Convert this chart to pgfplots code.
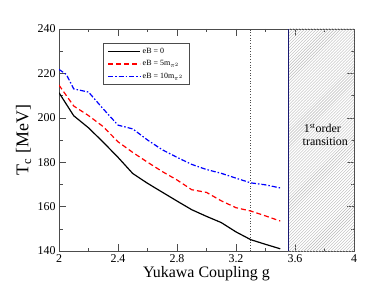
\documentclass[border=0pt]{standalone}
\usepackage{fontspec}
\setmainfont{Liberation Serif}
\usepackage{pgfplots}
\pgfplotsset{compat=1.18}
\usetikzlibrary{patterns}
\begin{document}
\begin{tikzpicture}[x=1bp,y=1bp]
\begin{axis}[
  scale only axis, width=295bp, height=222bp,
  xmin=2, xmax=4, ymin=140, ymax=240,
  xtick={2,2.4,2.8,3.2,3.6,4},
  xticklabels={2,2.4,2.8,3.2,3.6,4},
  ytick={140,160,180,200,220,240},
  minor x tick num=1, minor y tick num=1,
  tick align=inside, ticks=both,
  major tick length=7bp, minor tick length=3.5bp,
  tick style={black!70, line width=0.5bp},
  axis line style={black!70, line width=0.8bp},
  /pgf/number format/assume math mode=true,
  ticklabel style={font=\fontsize{12}{13}\selectfont},
  xticklabel style={inner sep=1.5bp, yshift=-2bp},
  xlabel={Yukawa Coupling g},
  ylabel={T\textsubscript{c} [MeV]},
  xlabel style={font=\fontsize{16}{18}\selectfont, inner sep=0pt, at={(axis description cs:0.5,-0.1)}, anchor=center},
  ylabel style={font=\fontsize{18}{20}\selectfont, at={(axis description cs:-0.12,0.5)}, anchor=center},
  legend style={at={(axis cs:2.30,233.7)}, anchor=north west, draw=black!70, line width=0.6bp,
    font=\fontsize{8}{9}\selectfont, row sep=1.5bp, inner xsep=4bp, inner ysep=3bp},
  legend cell align=left,
  legend image code/.code={\draw[#1] (0bp,0bp) -- (24bp,0bp); \path (0bp,0bp) -- (32bp,0bp);},
]
\addplot[draw=none, pattern=north east lines, pattern color=black!28, forget plot]
  coordinates {(3.557,140) (4,140) (4,240) (3.557,240)} -- cycle;
\addplot[color={rgb,1:red,0.1;green,0.1;blue,0.45}, line width=1bp, forget plot]
  coordinates {(3.557,140) (3.557,240)};
\addplot[black!70, dotted, line width=0.7bp, forget plot]
  coordinates {(3.3,140) (3.3,240)};
\addplot[black, line width=1.2bp] coordinates {
 (2.0,211.3) (2.1,200.9) (2.2,195.5) (2.3,189.0) (2.4,182.2) (2.5,174.9)
 (2.6,170.5) (2.7,166.5) (2.8,162.5) (2.9,158.6) (3.0,155.6) (3.1,152.8)
 (3.2,148.6) (3.3,145.1) (3.4,143.0) (3.5,141.0)};
\addlegendentry{eB = 0}
\addplot[red, dashed, dash pattern=on 5bp off 3bp, line width=1.2bp] coordinates {
 (2.0,214.7) (2.1,205.3) (2.2,201.0) (2.3,196.0) (2.4,189.2) (2.5,184.4)
 (2.6,180.0) (2.7,175.8) (2.8,172.0) (2.9,167.6) (3.0,166.4) (3.1,162.6)
 (3.2,159.5) (3.3,158.0) (3.4,155.8) (3.5,153.5)};
\addlegendentry{eB = 5m$_{\pi^2}$}
\addplot[blue, dash pattern=on 5bp off 2bp on 1.5bp off 2bp, line width=1.2bp] coordinates {
 (2.0,221.8) (2.05,219.5) (2.1,213.0) (2.2,211.6) (2.3,204.0) (2.4,196.7) (2.5,195.0)
 (2.6,190.0) (2.7,185.6) (2.8,182.2) (2.9,179.0) (3.0,176.7) (3.1,175.0)
 (3.2,172.8) (3.3,170.7) (3.4,169.8) (3.5,168.4)};
\addlegendentry{eB = 10m$_{\pi^2}$}
\node[align=center, font=\fontsize{12}{13}\selectfont] at (axis cs:3.785,192.2)
  {1\textsuperscript{st}order\\\ \ transition};
\end{axis}
\pgfresetboundingbox
\path (-59bp,-44bp) rectangle (323bp,251bp);
\end{tikzpicture}
\end{document}
